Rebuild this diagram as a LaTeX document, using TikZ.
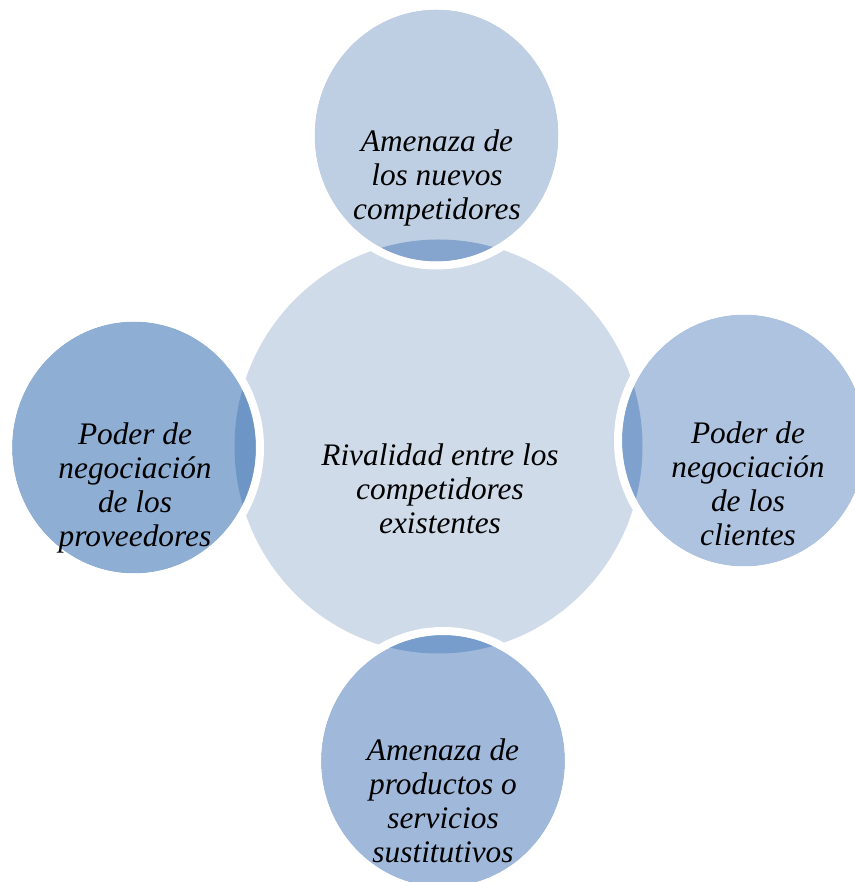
\documentclass[tikz,border=0pt]{standalone}
\usepackage{fontspec}
\setmainfont{Liberation Serif}
\definecolor{rivalfill}{HTML}{CFDBE9}
\definecolor{topfill}{HTML}{BFCFE3}
\definecolor{rightfill}{HTML}{ADC3DF}
\definecolor{bottomfill}{HTML}{A0B9DB}
\definecolor{leftfill}{HTML}{8FAED4}
\definecolor{toplens}{HTML}{86A5CE}
\definecolor{rightlens}{HTML}{7FA1CD}
\definecolor{bottomlens}{HTML}{769DCB}
\definecolor{leftlens}{HTML}{6D96C6}
\tikzset{
  label/.style={align=center, font=\itshape\fontsize{23.5}{25.5}\selectfont, text=black},
  rim/.style={draw=white, line width=6pt}
}
\begin{document}
\begin{tikzpicture}[x=0.75pt,y=0.75pt]
\useasboundingbox (0,0) rectangle (855,882);
% centre circle
\coordinate (rival) at (438.5,435.5);
\fill[rivalfill] (rival) ellipse [x radius=204, y radius=207];
% the four forces
\coordinate (nuevos) at (436.5,746.5);
\coordinate (clientes) at (744,441.5);
\coordinate (sustitutos) at (443,121);
\coordinate (proveedores) at (134,434.5);
\foreach \c/\f/\l in {nuevos/topfill/toplens,clientes/rightfill/rightlens,
  sustitutos/bottomfill/bottomlens,proveedores/leftfill/leftlens}
{
  \fill[\f] (\c) ellipse [x radius=122, y radius=126];
  \begin{scope}
    \clip (rival) ellipse [x radius=204, y radius=207];
    \fill[\l] (\c) ellipse [x radius=122, y radius=126];
  \end{scope}
  \draw[rim] (\c) ellipse [x radius=126, y radius=130];
}
% texts
\node[label] (tnuevos) at (437,704) {Amenaza de\\los nuevos\\competidores};
\node[label] (trival) at (440,393) {Rivalidad entre los\\competidores\\existentes};
\node[label] (tclientes) at (748,398) {Poder de\\negociación\\de los\\clientes};
\node[label] (tsustitutos) at (443,81) {Amenaza de\\productos o\\servicios\\sustitutivos};
\node[label] (tproveedores) at (135,394) {Poder de\\negociación\\de los\\proveedores};
\end{tikzpicture}
\end{document}
